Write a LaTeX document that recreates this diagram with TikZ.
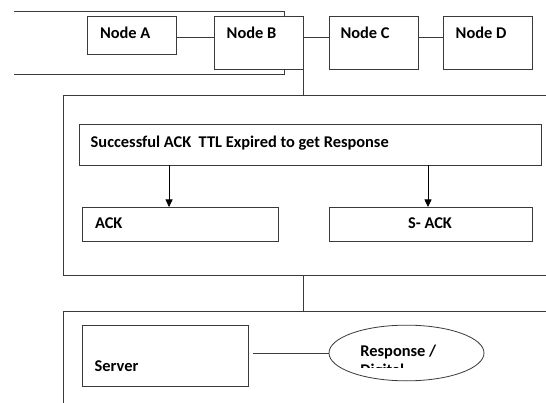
\documentclass[tikz,border=0pt]{standalone}
\usepackage{fontspec}
\setmainfont{Carlito}
\usetikzlibrary{shapes.geometric,arrows.meta}
\definecolor{edge}{HTML}{3A3A3A}
\begin{document}
\begin{tikzpicture}[x=1pt,y=-1pt,
  every node/.style={inner sep=0pt, outer sep=0pt},
  box/.style={draw=edge, line width=0.8pt, fill=white, rectangle, anchor=north west},
  oval/.style={draw=edge, line width=0.8pt, fill=white, ellipse},
  txt/.style={font=\fontsize{16.4}{19.5}\selectfont\bfseries, anchor=base west},
  link/.style={draw=edge, line width=0.8pt},
  arr/.style={draw=black, line width=0.8pt, -{Triangle[length=7.5pt,width=7pt]}}
]
\useasboundingbox (0,0) rectangle (546,403);
\begin{scope}
\clip (14,-20) rectangle (560,420);

% top row: frame behind nodes A and B, then the four nodes
\node[box, minimum width=304.3, minimum height=63.3] (top) at (-20,11) {};
\node[box, minimum width=89, minimum height=38.3] (nA) at (87.7,16) {};
\node[box, minimum width=89, minimum height=53] (nB) at (214.3,16) {};
\node[box, minimum width=89.3, minimum height=53] (nC) at (329,16) {};
\node[box, minimum width=89.3, minimum height=53] (nD) at (443,16) {};
\node[txt] (tA) at (100,39) {Node A};
\node[txt] (tB) at (226.7,39) {Node B};
\node[txt] (tC) at (340.5,39) {Node C};
\node[txt] (tD) at (455.7,39) {Node D};
\draw[link] ([yshift=-2pt]nA.east) -- ([yshift=-2pt]nA.east -| nB.west);
\draw[link] ([yshift=5.5pt]nB.east) -- ([yshift=5.5pt]nB.east -| nC.west);
\draw[link] ([yshift=5.5pt]nC.east) -- ([yshift=5.5pt]nC.east -| nD.west);

% acknowledgement block
\node[box, minimum width=600, minimum height=180.2] (mid) at (63.3,95.5) {};
\draw[link] (nB.south east) -- (nB.south east |- mid.north);
\node[box, minimum width=462, minimum height=40.7] (succ) at (79.3,124.3) {};
\node[txt] (tsucc) at (90.7,147.3) {Successful ACK\ \ TTL Expired to get Response};
\node[box, minimum width=195.3, minimum height=34] (ack) at (82.7,207) {};
\node[box, minimum width=203, minimum height=34] (sack) at (329.3,207) {};
\node[txt] (tack) at (95,229) {ACK};
\node[txt, anchor=base] (tsack) at (430,229) {S- ACK};
\draw[arr] ([xshift=-11.3pt]ack.north |- succ.south) -- ([xshift=-11.3pt]ack.north);
\draw[arr] ([xshift=-2.8pt]sack.north |- succ.south) -- ([xshift=-2.8pt]sack.north);

% server block
\node[box, minimum width=600, minimum height=160] (low) at (63.3,311.8) {};
\draw[link] (nB.east |- mid.south) -- (nB.east |- low.north);
\node[box, minimum width=165.8, minimum height=61] (srv) at (82.5,325) {};
\node[txt] (tsrv) at (94.7,371) {Server};
\node[oval, minimum width=155, minimum height=55.7] (resp) at (406.5,353) {};
\draw[link] ([xshift=5pt]srv.east |- resp.west) -- (resp.west);
\begin{scope}
\clip (329,325) rectangle (484,367);
\node[txt] (tresp) at (360.4,356) {Response /};
\node[txt] (tdig) at (360.4,375) {Digital};
\end{scope}
\end{scope}
\end{tikzpicture}
\end{document}
